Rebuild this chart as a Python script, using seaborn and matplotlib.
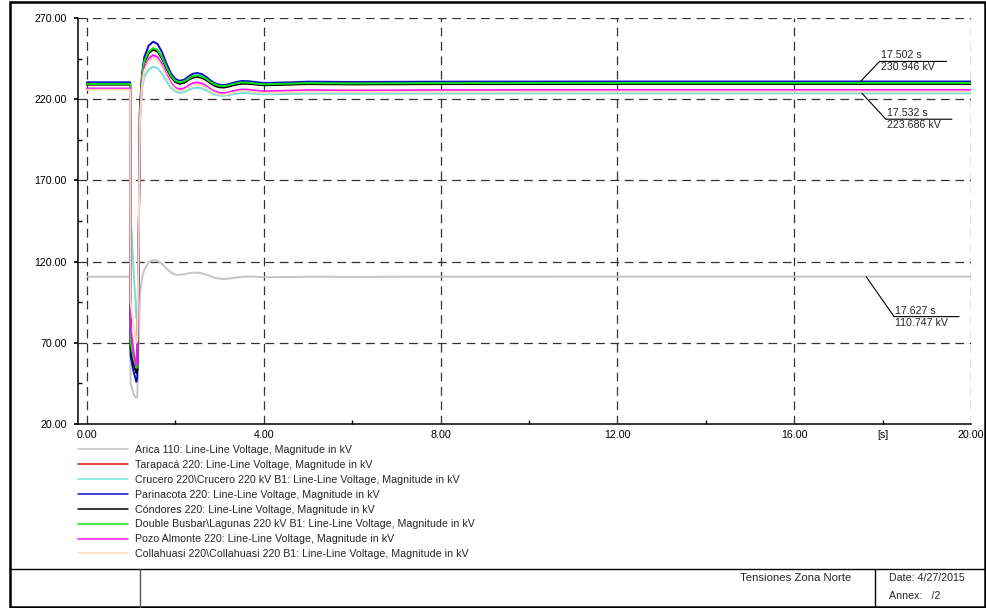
import matplotlib
matplotlib.use("Agg")
import matplotlib.pyplot as plt
import matplotlib.transforms as mtransforms
from matplotlib.patches import Rectangle
from matplotlib.lines import Line2D
from matplotlib.ticker import FixedLocator, FixedFormatter, NullFormatter
import pandas as pd
import seaborn as sns

# time axis [s]
time_s = [0, 0.98, 0.99, 1.06, 1.12, 1.14, 1.17, 1.20, 1.25, 1.30, 1.40, 1.50, 1.60, 1.70,
          1.80, 1.90, 2.00, 2.10, 2.20, 2.30, 2.40, 2.50, 2.60, 2.70, 2.80, 2.90, 3.00, 3.10,
          3.20, 3.35, 3.50, 3.65, 3.80, 4.00, 4.50, 5.00, 6.00, 8.00, 12.0, 16.0, 20.0]

arica = [110.7, 110.7, 45, 38, 36, 37, 70, 100, 110, 115, 119.5, 121, 120.5, 118.5,
         115.8, 113.3, 112.0, 111.8, 112.2, 112.8, 113.2, 113.2, 112.8, 112.0, 110.9, 110.0, 109.5, 109.3,
         109.5, 110.1, 110.6, 110.8, 110.7, 110.4, 110.5, 110.7, 110.6, 110.7, 110.75, 110.75, 110.75]
tarapaca = [229.2, 229.2, 68, 58, 53, 54, 123, 211, 234.1, 242.8, 248.9, 251.0, 249.8, 245.4,
            239.4, 234.1, 231.0, 230.0, 230.5, 232.3, 233.7, 234.1, 233.6, 232.1, 230.1, 228.5, 227.7, 227.6,
            228.1, 229.2, 229.9, 229.8, 229.4, 228.9, 229.2, 229.6, 229.4, 229.6, 229.7, 229.7, 229.7]
crucero = [226.4, 226.4, 150, 113, 85, 86, 126, 205, 227.0, 233.7, 238.4, 240.0, 239.1, 235.7,
           231.0, 227.0, 224.7, 223.9, 224.3, 225.7, 226.8, 227.1, 226.7, 225.5, 224.0, 222.9, 222.3, 222.1,
           222.5, 223.3, 223.8, 223.7, 223.4, 223.0, 223.2, 223.5, 223.4, 223.5, 223.6, 223.6, 223.6]
parinacota = [230.4, 230.4, 62, 52, 46, 48, 120, 215, 236, 246, 253, 255.4, 254, 249,
              242, 236, 232.5, 231.3, 232, 234, 235.7, 236.1, 235.5, 233.8, 231.5, 229.8, 228.9, 228.7,
              229.2, 230.4, 231.2, 231.1, 230.6, 230.0, 230.3, 230.8, 230.6, 230.8, 230.9, 230.9, 230.9]
condores = [229.0, 229.0, 66, 57, 51.4, 53, 122, 211, 233.8, 242.4, 248.4, 250.5, 249.3, 245.0,
            239.0, 233.8, 230.6, 229.5, 230.1, 231.9, 233.3, 233.7, 233.2, 231.7, 229.7, 228.1, 227.3, 227.2,
            227.7, 228.8, 229.5, 229.5, 229.1, 228.6, 228.9, 229.3, 229.1, 229.3, 229.4, 229.4, 229.4]
lagunas = [229.4, 229.4, 70, 60, 54.5, 56, 125, 212, 234.5, 243.3, 249.4, 251.5, 250.3, 245.9,
           239.8, 234.5, 231.4, 230.4, 231.0, 232.7, 234.2, 234.6, 234.0, 232.6, 230.5, 229.0, 228.2, 228.1,
           228.5, 229.6, 230.3, 230.2, 229.7, 229.2, 229.5, 229.9, 229.7, 229.9, 230.0, 230.0, 230.0]
pozo = [226.6, 226.6, 80, 64, 56, 58, 124, 208, 230.2, 239.0, 245.1, 247.2, 246.0, 241.6,
        235.5, 230.2, 227.1, 226.1, 226.7, 228.4, 229.9, 230.3, 229.7, 228.3, 226.2, 224.7, 223.9, 223.8,
        224.2, 225.3, 226.0, 225.9, 225.4, 224.9, 225.2, 225.6, 225.4, 225.6, 225.7, 225.7, 225.7]
collahuasi = [225.8, 225.8, 95, 80, 70, 72, 128, 206, 229.0, 237.5, 243.5, 245.5, 244.3, 240.1,
              234.1, 229.0, 226.1, 225.0, 225.6, 227.3, 228.8, 229.1, 228.6, 227.2, 225.2, 223.8, 223.0, 222.8,
              223.3, 224.3, 225.0, 224.9, 224.4, 223.9, 224.2, 224.6, 224.4, 224.6, 224.7, 224.7, 224.7]

series_names = [
    "Arica 110: Line-Line Voltage, Magnitude in kV",
    "Tarapacá 220: Line-Line Voltage, Magnitude in kV",
    "Crucero 220\\Crucero 220 kV B1: Line-Line Voltage, Magnitude in kV",
    "Parinacota 220: Line-Line Voltage, Magnitude in kV",
    "Cóndores 220: Line-Line Voltage, Magnitude in kV",
    "Double Busbar\\Lagunas 220 kV B1: Line-Line Voltage, Magnitude in kV",
    "Pozo Almonte 220: Line-Line Voltage, Magnitude in kV",
    "Collahuasi 220\\Collahuasi 220 B1: Line-Line Voltage, Magnitude in kV",
]
series_values = [arica, tarapaca, crucero, parinacota, condores, lagunas, pozo, collahuasi]
series_colors = ["#c4c4c4", "#e01010", "#6fe0dc", "#0a0ac8", "#000000", "#10e010", "#ff10ff", "#ffd9b8"]

# cursor readouts (time, value)
cursor_t = [17.502, 17.532, 17.627]
cursor_v = [230.946, 223.686, 110.747]

rows = []
for name, vals in zip(series_names, series_values):
    for t, v in zip(time_s, vals):
        rows.append({"t": t, "v": v, "series": name})
df = pd.DataFrame(rows)

sns.set_theme(style="white")
plt.rcParams["font.family"] = ["Liberation Sans", "DejaVu Sans"]
FS = 7.65

W, H = 986, 608
fig = plt.figure(figsize=(W / 100, H / 100), dpi=100)
ax = fig.add_axes([78 / W, 1 - 424 / H, (971 - 78) / W, (424 - 18) / H])

sns.lineplot(data=df, x="t", y="v", hue="series", hue_order=series_names,
             palette=dict(zip(series_names, series_colors)), estimator=None, sort=False,
             linewidth=1.4, legend=False, ax=ax, zorder=3)

ax.set_xlim(-0.2, 20)
ax.set_ylim(20, 270)
ax.set_xlabel("")
ax.set_ylabel("")

# dashed grid
for x in [0, 4, 8, 12, 16, 20]:
    ax.axvline(x, color="#333333", lw=0.9, dashes=(7, 4.5), zorder=1)
for y in [70, 120, 170, 220, 270]:
    ax.axhline(y, color="#333333", lw=0.9, dashes=(7, 4.5), zorder=1)

for s in ["top", "right"]:
    ax.spines[s].set_visible(False)
for s in ["left", "bottom"]:
    ax.spines[s].set_color("black")
    ax.spines[s].set_linewidth(1.1)

ax.set_xticks([0, 4, 8, 12, 16, 20])
ax.set_xticklabels(["0.00", "4.00", "8.00", "12.00", "16.00", "20.00"])
ax.xaxis.set_minor_locator(FixedLocator([2, 6, 10, 14, 18]))
ax.xaxis.set_minor_formatter(FixedFormatter(["", "", "", "", "[s]"]))
ax.set_yticks([20, 70, 120, 170, 220, 270])
ax.set_yticklabels(["20.00", "70.00", "120.00", "170.00", "220.00", "270.00"])
ax.yaxis.set_minor_locator(FixedLocator([45, 95, 145, 195, 245]))
ax.yaxis.set_minor_formatter(NullFormatter())

ax.tick_params(axis="x", which="major", length=0, pad=4, labelsize=FS, colors="black")
ax.tick_params(axis="x", which="minor", length=3, direction="in", pad=4, labelsize=FS,
               bottom=True, colors="black")
ax.tick_params(axis="y", which="major", length=3, direction="out", pad=5, labelsize=FS,
               left=True, colors="black")
ax.tick_params(axis="y", which="minor", length=3, direction="in", left=True, colors="black")


def cursor_label(t, v, dx, dy, width):
    tr_elbow = mtransforms.offset_copy(ax.transData, fig=fig, x=dx, y=dy, units="dots")
    tr_end = mtransforms.offset_copy(ax.transData, fig=fig, x=dx + width, y=dy, units="dots")
    tr_top = mtransforms.offset_copy(ax.transData, fig=fig, x=dx + 1, y=dy + 1, units="dots")
    tr_bot = mtransforms.offset_copy(ax.transData, fig=fig, x=dx + 1, y=dy - 1, units="dots")
    ap = dict(arrowstyle="-", lw=0.8, color="black", shrinkA=0, shrinkB=0)
    ax.annotate("", xy=(t, v), xycoords="data", xytext=(t, v), textcoords=tr_elbow,
                arrowprops=ap, zorder=5)
    ax.annotate("", xy=(t, v), xycoords=tr_elbow, xytext=(t, v), textcoords=tr_end,
                arrowprops=ap, zorder=5)
    ax.text(t, v, f"{t:.3f} s", transform=tr_top, fontsize=FS, ha="left", va="bottom", zorder=5)
    ax.text(t, v, f"{v:.3f} kV", transform=tr_bot, fontsize=FS, ha="left", va="top", zorder=5)


cursor_label(cursor_t[0], cursor_v[0], 19, 20, 67)
cursor_label(cursor_t[1], cursor_v[1], 24, -26, 66)
cursor_label(cursor_t[2], cursor_v[2], 28, -40, 65)

# legend below the plot
handles = [Line2D([0], [0], color=c, lw=1.1) for c in series_colors]
fig.legend(handles, series_names, loc="upper left", bbox_to_anchor=(78 / W, 1 - 445 / H),
           frameon=False, fontsize=FS, handlelength=4.7, handletextpad=0.65,
           labelspacing=0.46, borderpad=0, borderaxespad=0)

# page frame and title block
fig.add_artist(Rectangle((10 / W, 1 / H), 975 / W, 605 / H, transform=fig.transFigure,
                         fill=False, lw=1.8, edgecolor="black"))
fig.add_artist(Line2D([10 / W, 985 / W], [1 - 569 / H, 1 - 569 / H], transform=fig.transFigure,
                      color="black", lw=1.0))
fig.add_artist(Line2D([140 / W, 140 / W], [1 - 569 / H, 1 / H], transform=fig.transFigure,
                      color="#555555", lw=1.0))
fig.add_artist(Line2D([875 / W, 875 / W], [1 - 569 / H, 1 / H], transform=fig.transFigure,
                      color="black", lw=1.0))
fig.text(796 / W, 1 - 578 / H, "Tensiones Zona Norte", fontsize=8.2, ha="center", va="center")
fig.text(889 / W, 1 - 578 / H, "Date: 4/27/2015", fontsize=FS, ha="left", va="center")
fig.text(889 / W, 1 - 596 / H, "Annex:   /2", fontsize=FS, ha="left", va="center")

fig.savefig("out.png", dpi=100)
